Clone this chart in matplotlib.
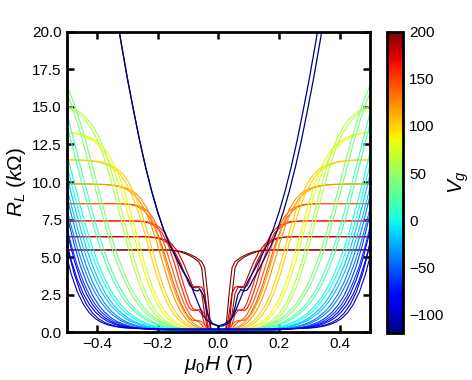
import numpy as np
import matplotlib.pyplot as plt
import matplotlib as mpl

plt.rcParams['font.family'] = ['Liberation Sans', 'DejaVu Sans']
plt.rcParams['mathtext.fontset'] = 'custom'
plt.rcParams['mathtext.rm'] = 'Liberation Sans'
plt.rcParams['mathtext.it'] = 'Liberation Sans:italic'

# field values of the positive half (T); the negative half is the mirror
h_half = [0.00, 0.02, 0.03, 0.04, 0.05, 0.06, 0.07, 0.08, 0.09, 0.10,
          0.12, 0.14, 0.16, 0.18, 0.20, 0.22, 0.24, 0.26, 0.28, 0.30,
          0.32, 0.34, 0.36, 0.38, 0.40, 0.42, 0.44, 0.46, 0.48, 0.50, 0.52]

# gate voltages (V) and R_L (kOhm)
vg_values = [-100, -80, -60, -40, -20, 0, 20, 40, 60, 80, 100, 120, 140, 160, 180, 200]

r_m100 = [0.22, 0.22, 0.22, 0.22, 0.22, 0.22, 0.22, 0.22, 0.22, 0.22, 0.22, 0.22, 0.22, 0.22, 0.22,
          0.23, 0.24, 0.25, 0.27, 0.29, 0.33, 0.40, 0.50, 0.66, 0.90, 1.28, 1.86, 2.69, 3.87, 5.44, 7.4]
r_m80 = [0.19, 0.19, 0.19, 0.19, 0.19, 0.19, 0.19, 0.19, 0.19, 0.19, 0.19, 0.19, 0.19, 0.19, 0.20,
         0.22, 0.24, 0.26, 0.30, 0.35, 0.43, 0.55, 0.73, 0.98, 1.34, 1.85, 2.56, 3.52, 4.78, 6.36, 8.25]
r_m60 = [0.14, 0.14, 0.14, 0.14, 0.14, 0.14, 0.14, 0.14, 0.14, 0.14, 0.14, 0.14, 0.14, 0.16, 0.17,
         0.20, 0.23, 0.27, 0.33, 0.43, 0.56, 0.73, 0.99, 1.34, 1.82, 2.47, 3.35, 4.43, 5.82, 7.45, 9.27]
r_m40 = [0.10, 0.10, 0.10, 0.10, 0.10, 0.10, 0.10, 0.10, 0.10, 0.10, 0.11, 0.12, 0.14, 0.16, 0.19,
         0.23, 0.29, 0.37, 0.48, 0.62, 0.82, 1.09, 1.45, 1.94, 2.57, 3.36, 4.39, 5.62, 7.05, 8.68, 10.42]
r_m20 = [0.09, 0.09, 0.09, 0.09, 0.09, 0.09, 0.09, 0.09, 0.09, 0.10, 0.12, 0.14, 0.17, 0.21, 0.25,
         0.32, 0.41, 0.54, 0.70, 0.91, 1.21, 1.58, 2.06, 2.68, 3.48, 4.44, 5.60, 6.95, 8.46, 10.06, 11.72]
r_0 = [0.07, 0.07, 0.07, 0.07, 0.07, 0.08, 0.09, 0.09, 0.10, 0.11, 0.14, 0.17, 0.21, 0.27, 0.35,
       0.45, 0.58, 0.76, 0.99, 1.29, 1.68, 2.18, 2.81, 3.58, 4.53, 5.65, 6.95, 8.38, 9.94, 11.54, 13.1]
r_20 = [0.05, 0.06, 0.07, 0.07, 0.08, 0.09, 0.10, 0.11, 0.12, 0.14, 0.18, 0.24, 0.31, 0.40, 0.53,
        0.69, 0.91, 1.19, 1.56, 2.02, 2.62, 3.36, 4.27, 5.35, 6.60, 8.00, 9.52, 11.08, 12.67, 14.22, 15.58]
r_40 = [0.04, 0.05, 0.06, 0.07, 0.08, 0.09, 0.11, 0.13, 0.14, 0.17, 0.23, 0.31, 0.43, 0.58, 0.78,
        1.04, 1.40, 1.87, 2.47, 3.22, 4.15, 5.26, 6.54, 7.98, 9.50, 11.05, 12.55, 13.93, 15.17, 16.20, 17.07]
r_60 = [0.02, 0.03, 0.03, 0.04, 0.05, 0.06, 0.07, 0.09, 0.11, 0.14, 0.21, 0.33, 0.50, 0.75, 1.13,
        1.67, 2.42, 3.43, 4.70, 6.20, 7.82, 9.42, 10.88, 12.10, 13.05, 13.75, 14.26, 14.61, 14.85, 15.00, 15.10]
r_80 = [0.03, 0.05, 0.06, 0.07, 0.08, 0.10, 0.12, 0.15, 0.19, 0.24, 0.38, 0.58, 0.89, 1.35, 2.00,
        2.90, 4.06, 5.44, 6.93, 8.40, 9.72, 10.79, 11.61, 12.21, 12.62, 12.89, 13.07, 13.19, 13.27, 13.31, 13.34]
r_100 = [0.04, 0.06, 0.08, 0.10, 0.13, 0.17, 0.21, 0.27, 0.35, 0.45, 0.72, 1.16, 1.80, 2.70, 3.90,
         5.29, 6.75, 8.06, 9.15, 9.96, 10.53, 10.89, 11.12, 11.27, 11.36, 11.41, 11.44, 11.46, 11.47, 11.47, 11.47]
r_120 = [0.05, 0.09, 0.12, 0.17, 0.22, 0.29, 0.38, 0.50, 0.65, 0.85, 1.41, 2.24, 3.38, 4.73, 6.10,
         7.32, 8.24, 8.87, 9.28, 9.53, 9.67, 9.76, 9.81, 9.84, 9.85, 9.86, 9.87, 9.87, 9.87, 9.87, 9.87]
r_140 = [0.00, 0.02, 0.05, 0.20, 0.50, 0.70, 0.78, 0.80, 0.95, 1.20, 2.00, 3.10, 4.40, 5.70, 6.80,
         7.60, 8.10, 8.35, 8.48, 8.53, 8.55, 8.56, 8.56, 8.56, 8.56, 8.56, 8.56, 8.56, 8.56, 8.56, 8.56]
r_160 = [0.00, 0.02, 0.05, 0.50, 1.20, 1.45, 1.50, 1.45, 1.60, 2.00, 3.20, 4.60, 5.80, 6.60, 7.00,
         7.25, 7.35, 7.39, 7.41, 7.41, 7.41, 7.41, 7.41, 7.41, 7.41, 7.41, 7.41, 7.41, 7.41, 7.41, 7.41]
r_180 = [0.00, 0.02, 0.10, 1.20, 2.60, 3.00, 3.05, 2.95, 3.10, 3.60, 4.60, 5.40, 5.90, 6.15, 6.28,
         6.33, 6.36, 6.36, 6.36, 6.36, 6.36, 6.36, 6.36, 6.36, 6.36, 6.36, 6.36, 6.36, 6.36, 6.36, 6.36]
r_200 = [0.00, 0.02, 0.30, 2.50, 4.30, 4.70, 4.85, 5.00, 5.10, 5.20, 5.35, 5.43, 5.47, 5.48, 5.48,
         5.48, 5.48, 5.48, 5.48, 5.48, 5.48, 5.48, 5.48, 5.48, 5.48, 5.48, 5.48, 5.48, 5.48, 5.48, 5.48]

# Vg = -120 V, the two field sweeps
vg_low = -120
r_low_a = [0.42, 0.55, 0.70, 0.85, 1.10, 1.60, 2.10, 2.60, 3.10, 3.50, 4.20, 5.00, 5.80, 6.80, 8.00,
           9.40, 11.0, 12.8, 14.8, 16.9, 19.2, 21.6, 24.1, 26.8, 29.6, 32.6, 35.8, 39.0, 42.5, 46.0, 50.0]
r_low_b = [0.42, 0.60, 0.90, 1.60, 2.50, 2.85, 2.75, 2.80, 3.10, 3.50, 4.20, 5.00, 5.80, 6.80, 8.00,
           9.40, 11.0, 12.8, 14.8, 16.9, 19.2, 21.6, 24.1, 26.8, 29.6, 32.6, 35.8, 39.0, 42.5, 46.0, 50.0]

curves = [r_m100, r_m80, r_m60, r_m40, r_m20, r_0, r_20, r_40,
          r_60, r_80, r_100, r_120, r_140, r_160, r_180, r_200]
sweep_shift = [-0.005, 0.005]

cmap = plt.get_cmap('jet')
norm = mpl.colors.Normalize(vmin=-120, vmax=200)


def full_sweep(h, r, s_neg, s_pos):
    h = np.asarray(h)
    r = np.asarray(r)
    hh = np.concatenate([-h[::-1] + s_neg, h + s_pos])
    rr = np.concatenate([r[::-1], r])
    return hh, rr


fig = plt.figure(figsize=(4.72, 3.80), dpi=100)
ax = fig.add_axes([0.1413, 0.1255, 0.6427, 0.7911])

for vg, r in reversed(list(zip(vg_values, curves))):
    for s in sweep_shift:
        hh, rr = full_sweep(h_half, r, s, s)
        ax.plot(hh, rr, color=cmap(norm(vg)), lw=0.8)

# left branches of the two -120 V sweeps lie on top of each other
for r, s in [(r_low_a, 0.0), (r_low_b, 0.014)]:
    hh, rr = full_sweep(h_half, r, 0.0, s)
    ax.plot(hh, rr, color=cmap(norm(vg_low)), lw=0.9)

ax.set_xlim(-0.5, 0.5)
ax.set_ylim(0, 20)
ax.set_xticks([-0.4, -0.2, 0.0, 0.2, 0.4])
ax.set_yticks(np.arange(0, 20.1, 2.5))
ax.tick_params(direction='in', top=True, right=True, length=5, width=1.8, labelsize=11)
for sp in ax.spines.values():
    sp.set_linewidth(2)
ax.set_xlabel(r'$\mu_0H\ (T)$', fontsize=15, labelpad=1)
ax.set_ylabel(r'$R_L\ (k\Omega)$', fontsize=15, labelpad=3)

cax = fig.add_axes([0.8206, 0.1228, 0.0339, 0.7937])
sm = mpl.cm.ScalarMappable(norm=norm, cmap=cmap)
cb = fig.colorbar(sm, cax=cax, ticks=[-100, -50, 0, 50, 100, 150, 200])
cb.outline.set_linewidth(2)
cb.ax.tick_params(length=0, labelsize=11, pad=4)
cb.set_label(r'$V_g$', fontsize=15, labelpad=2)

fig.savefig('out.png', dpi=100)
